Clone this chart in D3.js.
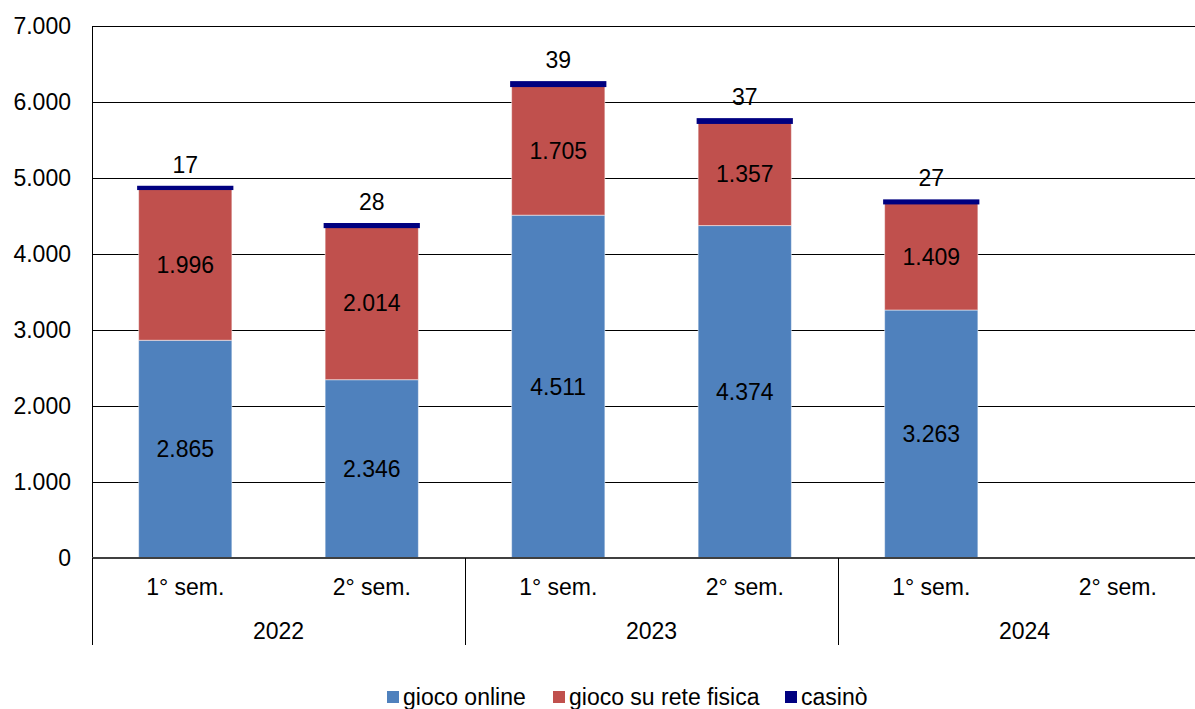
<!DOCTYPE html>
<html><head><meta charset="utf-8">
<script src="https://cdn.jsdelivr.net/npm/d3@7"></script>
<style>body{margin:0;background:#fff;overflow:hidden}svg{display:block;font-family:"Liberation Sans",Arial,sans-serif}</style>
</head><body><svg id="c" width="1195" height="709"></svg>
<script>
const semesters = ["1° sem.","2° sem.","1° sem.","2° sem.","1° sem.","2° sem."];
const years = ["2022","2023","2024"];
const online = [2865, 2346, 4511, 4374, 3263, null];
const fisica = [1996, 2014, 1705, 1357, 1409, null];
const casino = [17, 28, 39, 37, 27, null];
const yTicks = [0,1000,2000,3000,4000,5000,6000,7000];
const seriesNames = ["gioco online","gioco su rete fisica","casinò"];
const colors = ["#4F81BD","#C0504D","#000080"];

const FS = 23;
const svg = d3.select("#c");
const L=92, R=1211, T=26, B=558;
const fmt = d3.formatLocale({decimal:",",thousands:".",grouping:[3]}).format(",d");
const y = d3.scaleLinear().domain([0,7000]).range([B,T]);
const idx = d3.range(semesters.length);
const x = d3.scaleBand().domain(idx).range([L,R]).paddingInner(0.5).paddingOuter(0.25);
const yearScale = d3.scaleBand().domain(years).range([L,R]);
const slot = (R-L)/semesters.length;

// gridlines
svg.append("g").selectAll("line").data(yTicks.filter(d=>d>0)).join("line")
  .attr("x1",L).attr("x2",R).attr("y1",d=>y(d)).attr("y2",d=>y(d))
  .attr("stroke","#000").attr("stroke-width",1).attr("shape-rendering","crispEdges");

// y axis labels
svg.append("g").selectAll("text").data(yTicks).join("text")
  .attr("x",71).attr("y",d=>y(d)).attr("dy","0.36em").attr("text-anchor","end")
  .attr("font-size",FS).attr("fill","#000").text(d=>fmt(d));

// stacked data
const rows = idx.map(i=>({i, online:online[i], fisica:fisica[i], casino:casino[i]}));
const stack = d3.stack().keys(["online","fisica","casino"]).value((d,k)=>d[k]||0);
const stacked = stack(rows);

stacked.forEach((s,si)=>{
  const g = svg.append("g");
  g.selectAll("rect").data(s.filter(d=>d.data.online!==null)).join("rect")
    .attr("x",d=>x(d.data.i)).attr("width",x.bandwidth())
    .attr("y",d=>y(d[1])).attr("height",d=>Math.max(0,y(d[0])-y(d[1])))
    .attr("fill",colors[si])
    .attr("stroke", si===2 ? colors[2] : "#ffffff")
    .attr("stroke-opacity", si===2 ? 1 : 0.5)
    .attr("stroke-width", si===2 ? 3 : 1);
});

// labels
const lab = svg.append("g").attr("font-size",FS).attr("fill","#000").attr("text-anchor","middle");
stacked.forEach((s,si)=>{
  s.filter(d=>d.data.online!==null).forEach(d=>{
    const cx = x(d.data.i)+x.bandwidth()/2;
    const cy = si===2 ? y(d[1])-23 : (y(d[0])+y(d[1]))/2;
    lab.append("text").attr("x",cx).attr("y",cy).attr("dy","0.36em").text(fmt(d.data[s.key]));
  });
});

// axes frame
svg.append("line").attr("x1",L).attr("x2",R).attr("y1",T).attr("y2",T).attr("stroke","#000").attr("shape-rendering","crispEdges");
svg.append("line").attr("x1",L).attr("x2",L).attr("y1",T).attr("y2",B).attr("stroke","#000").attr("shape-rendering","crispEdges");
svg.append("line").attr("x1",L).attr("x2",R).attr("y1",B).attr("y2",B).attr("stroke","#404040").attr("stroke-width",2);

// category labels
svg.append("g").selectAll("text").data(idx).join("text")
  .attr("x",i=>L+slot*(i+0.5)).attr("y",587).attr("dy","0.36em")
  .attr("text-anchor","middle").attr("font-size",FS).text(i=>semesters[i]);
svg.append("g").selectAll("text").data(years).join("text")
  .attr("x",d=>yearScale(d)+yearScale.bandwidth()/2).attr("y",631).attr("dy","0.36em")
  .attr("text-anchor","middle").attr("font-size",FS).text(d=>d);
svg.append("g").selectAll("line").data(years).join("line")
  .attr("x1",d=>yearScale(d)).attr("x2",d=>yearScale(d)).attr("y1",B).attr("y2",645)
  .attr("stroke","#000").attr("shape-rendering","crispEdges");

// legend
const legX = [387, 553, 785];
const leg = svg.append("g");
seriesNames.forEach((n,i)=>{
  leg.append("rect").attr("x",legX[i]).attr("y",691).attr("width",12).attr("height",12).attr("fill",colors[i]);
  leg.append("text").attr("x",legX[i]+16).attr("y",697).attr("dy","0.36em").attr("font-size",FS).text(n);
});
</script></body></html>
